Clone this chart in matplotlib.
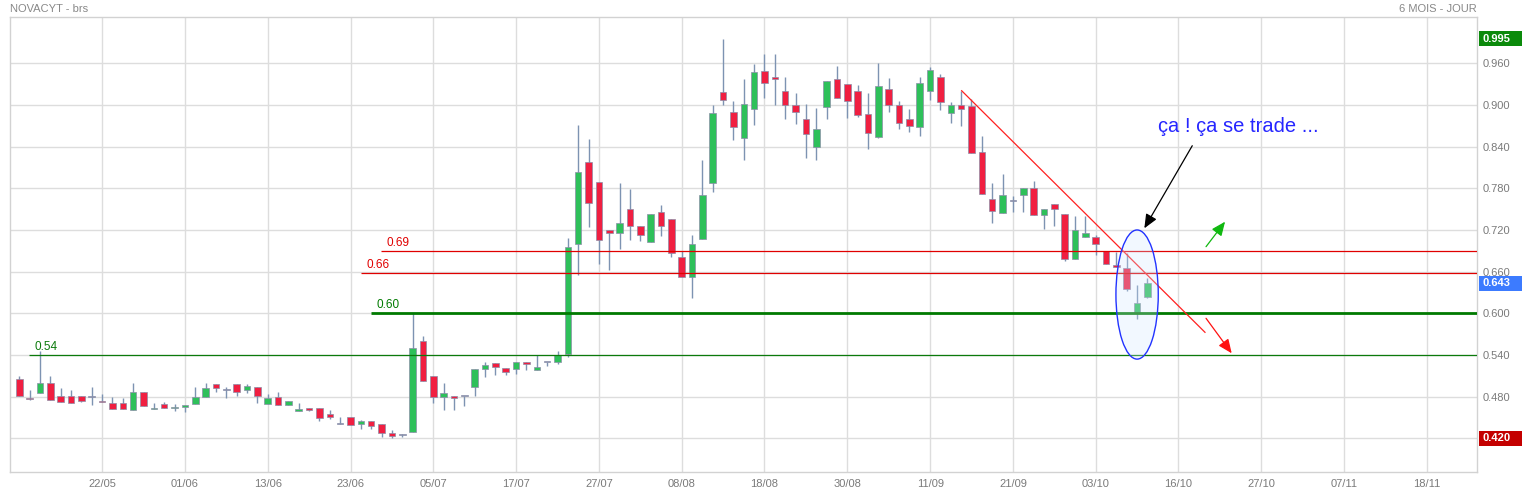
import numpy as np
import matplotlib
matplotlib.use('Agg')
import matplotlib.pyplot as plt
from matplotlib.patches import Ellipse, Rectangle
from matplotlib.transforms import blended_transform_factory

plt.rcParams['font.family'] = ['Liberation Sans', 'DejaVu Sans']

# ---------------------------------------------------------------------------
# daily candles (one per trading session)
# ---------------------------------------------------------------------------
opens = [
    .5054, .4781, .4853, .4997, .4810, .4810, .4810, .4795, .4738, .4714,
    .4714, .4608, .4867, .4622, .4694, .4637, .4651, .4690, .4790, .4982,
    .4896, .4982, .4891, .4939, .4690, .4795, .4680, .4598, .4637, .4637,
    .4546, .4402, .4507, .4402, .4445, .4402, .4272, .4243, .4296, .5597,
    .5093, .4800, .4805, .4805, .4935, .5198, .5290, .5218, .5198, .5304,
    .5189, .5304, .5304, .5410, .7003, .8184, .7896, .7205, .7162, .7507,
    .7262, .7032, .7464, .7363, .6816, .6528, .7075, .7872, .9182, .8892,
    .8520, .8938, .9485, .9398, .9197, .8995, .8794, .8400, .8976, .9370,
    .9298, .9197, .8866, .8544, .9226, .8995, .8794, .8688, .9206, .9398,
    .8880, .8995, .8986, .8323, .7642, .7440, .7618, .7699, .7800, .7411,
    .7570, .7430, .6787, .7094, .7094, .6902, .6691, .6648, .6019, .6240,
]
highs = [
    .5102, .4901, .5458, .5102, .4925, .4901, .4810, .4944, .4838, .4795,
    .4781, .5002, .4867, .4704, .4723, .4699, .4680, .4944, .5002, .4982,
    .4944, .4982, .4987, .4939, .4838, .4867, .4738, .4704, .4637, .4637,
    .4608, .4507, .4507, .4464, .4445, .4402, .4315, .4262, .6000, .5674,
    .5093, .4997, .4805, .4805, .5200, .5304, .5290, .5218, .5304, .5304,
    .5400, .5304, .5453, .7080, .8707, .8506, .7896, .7205, .7872, .7786,
    .7262, .7435, .7555, .7363, .6902, .7133, .8208, .8995, .9950, .9055,
    .9370, .9590, .9734, .9734, .9398, .9173, .9014, .8957, .9341, .9562,
    .9298, .9283, .9168, .9600, .9389, .9053, .8938, .9398, .9542, .9446,
    .9043, .9206, .9082, .8554, .7872, .8006, .7694, .7805, .7906, .7498,
    .7570, .7430, .7402, .7402, .7128, .6902, .6888, .6874, .6403, .6504,
]
lows = [
    .4814, .4747, .4853, .4752, .4723, .4709, .4718, .4675, .4723, .4622,
    .4622, .4608, .4670, .4622, .4637, .4598, .4574, .4690, .4790, .4862,
    .4776, .4805, .4848, .4704, .4690, .4680, .4680, .4598, .4589, .4454,
    .4483, .4402, .4397, .4330, .4330, .4224, .4200, .4219, .4296, .5021,
    .4714, .4613, .4608, .4666, .4815, .5083, .5112, .5112, .5122, .5184,
    .5189, .5242, .5270, .5376, .6552, .7243, .6710, .6624, .6931, .7056,
    .7042, .7032, .7114, .6811, .6528, .6221, .7075, .7747, .8995, .8498,
    .8210, .8717, .9106, .9000, .8803, .8731, .8237, .8213, .8803, .9096,
    .8818, .8832, .8362, .8520, .8904, .8654, .8616, .8554, .9072, .8928,
    .8736, .8702, .8314, .7714, .7306, .7440, .7464, .7464, .7416, .7210,
    .7262, .6758, .6787, .7094, .6835, .6706, .6662, .6317, .5914, .6216,
]
closes = [
    .4814, .4766, .4997, .4752, .4723, .4709, .4738, .4795, .4723, .4622,
    .4622, .4867, .4670, .4642, .4637, .4651, .4680, .4795, .4925, .4920,
    .4896, .4862, .4954, .4810, .4781, .4680, .4738, .4622, .4613, .4488,
    .4512, .4402, .4397, .4445, .4373, .4272, .4229, .4243, .5496, .5021,
    .4800, .4848, .4786, .4805, .5200, .5261, .5227, .5160, .5304, .5270,
    .5222, .5304, .5400, .6960, .8040, .7594, .7061, .7162, .7306, .7262,
    .7133, .7435, .7262, .6874, .6528, .7003, .7699, .8880, .9067, .8688,
    .9012, .9470, .9312, .9370, .8995, .8894, .8578, .8650, .9341, .9096,
    .9053, .8851, .8592, .9269, .8995, .8736, .8702, .9312, .9504, .9048,
    .8995, .8938, .8314, .7714, .7478, .7699, .7618, .7805, .7416, .7498,
    .7498, .6778, .7200, .7152, .6994, .6706, .6662, .6346, .6144, .6432,
]

# date labels, one every 8 sessions starting at session 8
date_labels = ['22/05', '01/06', '13/06', '23/06', '05/07', '17/07', '27/07',
               '08/08', '18/08', '30/08', '11/09', '21/09', '03/10', '16/10',
               '27/10', '07/11', '18/11']
price_ticks = [0.420, 0.480, 0.540, 0.600, 0.660, 0.720, 0.780, 0.840, 0.900, 0.960]

# hand-drawn levels: (price, label, start session, colour, width)
levels = [
    (0.6893, '0.69', 34.95, '#e00000', 0.9),
    (0.6576, '0.66', 33.0, '#e00000', 0.9),
    (0.600, '0.60', 33.97, '#007a00', 2.0),
    (0.5400, '0.54', 0.97, '#0b7a0b', 0.9),
]
trend_line = [(91.05, 0.9205), (114.56, 0.5726)]
red_arrow = [(114.66, 0.5928), (117.14, 0.5424)]
green_arrow = [(114.66, 0.6959), (116.5, 0.7319)]
black_arrow = [(113.33, 0.8413), (108.7, 0.7224)]
circle_centre = (108.0, 0.627)
last_high, last_price, last_low = 0.995, 0.643, 0.420

GREEN = '#2ec05a'
RED = '#f01f41'
WICK = '#7d93b2'
GRID = '#dddddd'
TXT = '#7a7a7a'

fig = plt.figure(figsize=(15.22, 4.93), dpi=100)
ax = fig.add_axes([10.3 / 1522, 21 / 493, 1467 / 1522, 455 / 493])

x = np.arange(len(opens))
o, h, l, c = map(np.array, (opens, highs, lows, closes))

ax.vlines(x, l, h, color=WICK, lw=1.0, zorder=2)
body_lo = np.minimum(o, c)
body_h = np.maximum(np.abs(c - o), 0.0012)
cols = np.where(c > o, GREEN, np.where(c < o, RED, WICK))
ax.bar(x, body_h, bottom=body_lo, width=0.63, color=cols,
       edgecolor='#8c8ea8', linewidth=0.5, zorder=3)

# horizontal levels
for price, lab, start, col, lw in levels:
    ax.plot([start, 141], [price, price], color=col, lw=lw, zorder=4,
            solid_capstyle='butt')
    ax.annotate(lab, (start + 0.5, price), xytext=(0, 1.5),
                textcoords='offset points', color=col, fontsize=8.5,
                ha='left', va='bottom', zorder=6)

# trend line and arrows
ax.plot(*zip(*trend_line), color='#ff2020', lw=0.9, zorder=5)
for (p0, p1), col in ((red_arrow, '#ff1010'), (green_arrow, '#10b810'),
                      (black_arrow, 'black')):
    ax.annotate('', xy=p1, xytext=p0,
                arrowprops=dict(arrowstyle='-|>,head_length=0.65,head_width=0.28',
                                color=col, lw=0.9, mutation_scale=13,
                                shrinkA=0, shrinkB=0), zorder=6)

ax.add_patch(Ellipse(circle_centre, 4.09, 0.186, facecolor=(0.82, 0.9, 1.0, 0.28),
                     edgecolor='#2233ff', lw=1.0, zorder=5))
ax.text(110.0, 0.8615, 'ça ! ça se trade ...', color='#2626ff', fontsize=14.5,
        ha='left', va='baseline', zorder=6)

# axes styling
ax.set_xlim(-0.87, 140.87)
ax.set_ylim(0.37144, 1.02668)
ax.set_xticks(np.arange(8, 8 * (len(date_labels) + 1), 8))
ax.set_xticklabels(date_labels)
ax.yaxis.tick_right()
ax.set_yticks(price_ticks)
ax.set_yticklabels([''] + [f'{p:.3f}' for p in price_ticks[1:]])
ax.tick_params(axis='both', length=0, labelsize=8, labelcolor=TXT)
ax.tick_params(axis='x', pad=5)
ax.tick_params(axis='y', pad=4)
ax.grid(True, color=GRID, lw=1.0, zorder=0)
ax.set_axisbelow(True)
for sp in ax.spines.values():
    sp.set_color('#d2d2d2')
    sp.set_linewidth(1.0)

# price boxes on the right
tr = blended_transform_factory(fig.transFigure, ax.transData)
box_h = 15 / 694.4
for val, col in ((last_high, '#0b8a0b'), (last_price, '#3c7bff'), (last_low, '#c40000')):
    ax.add_patch(Rectangle((1479 / 1522, val - box_h / 2), 43 / 1522, box_h,
                           transform=tr, facecolor=col, edgecolor='none',
                           clip_on=False, zorder=7))
    ax.text(1482.5 / 1522, val, f'{val:.3f}', transform=tr, color='white',
            fontsize=8, fontweight='bold', ha='left', va='center', zorder=8)

fig.text(10.3 / 1522, 1 - 9 / 493, 'NOVACYT - brs', color='#888888',
         fontsize=8, ha='left', va='center')
fig.text(1477 / 1522, 1 - 9 / 493, '6 MOIS - JOUR', color='#888888',
         fontsize=8, ha='right', va='center')

fig.savefig('out.png', dpi=100)
